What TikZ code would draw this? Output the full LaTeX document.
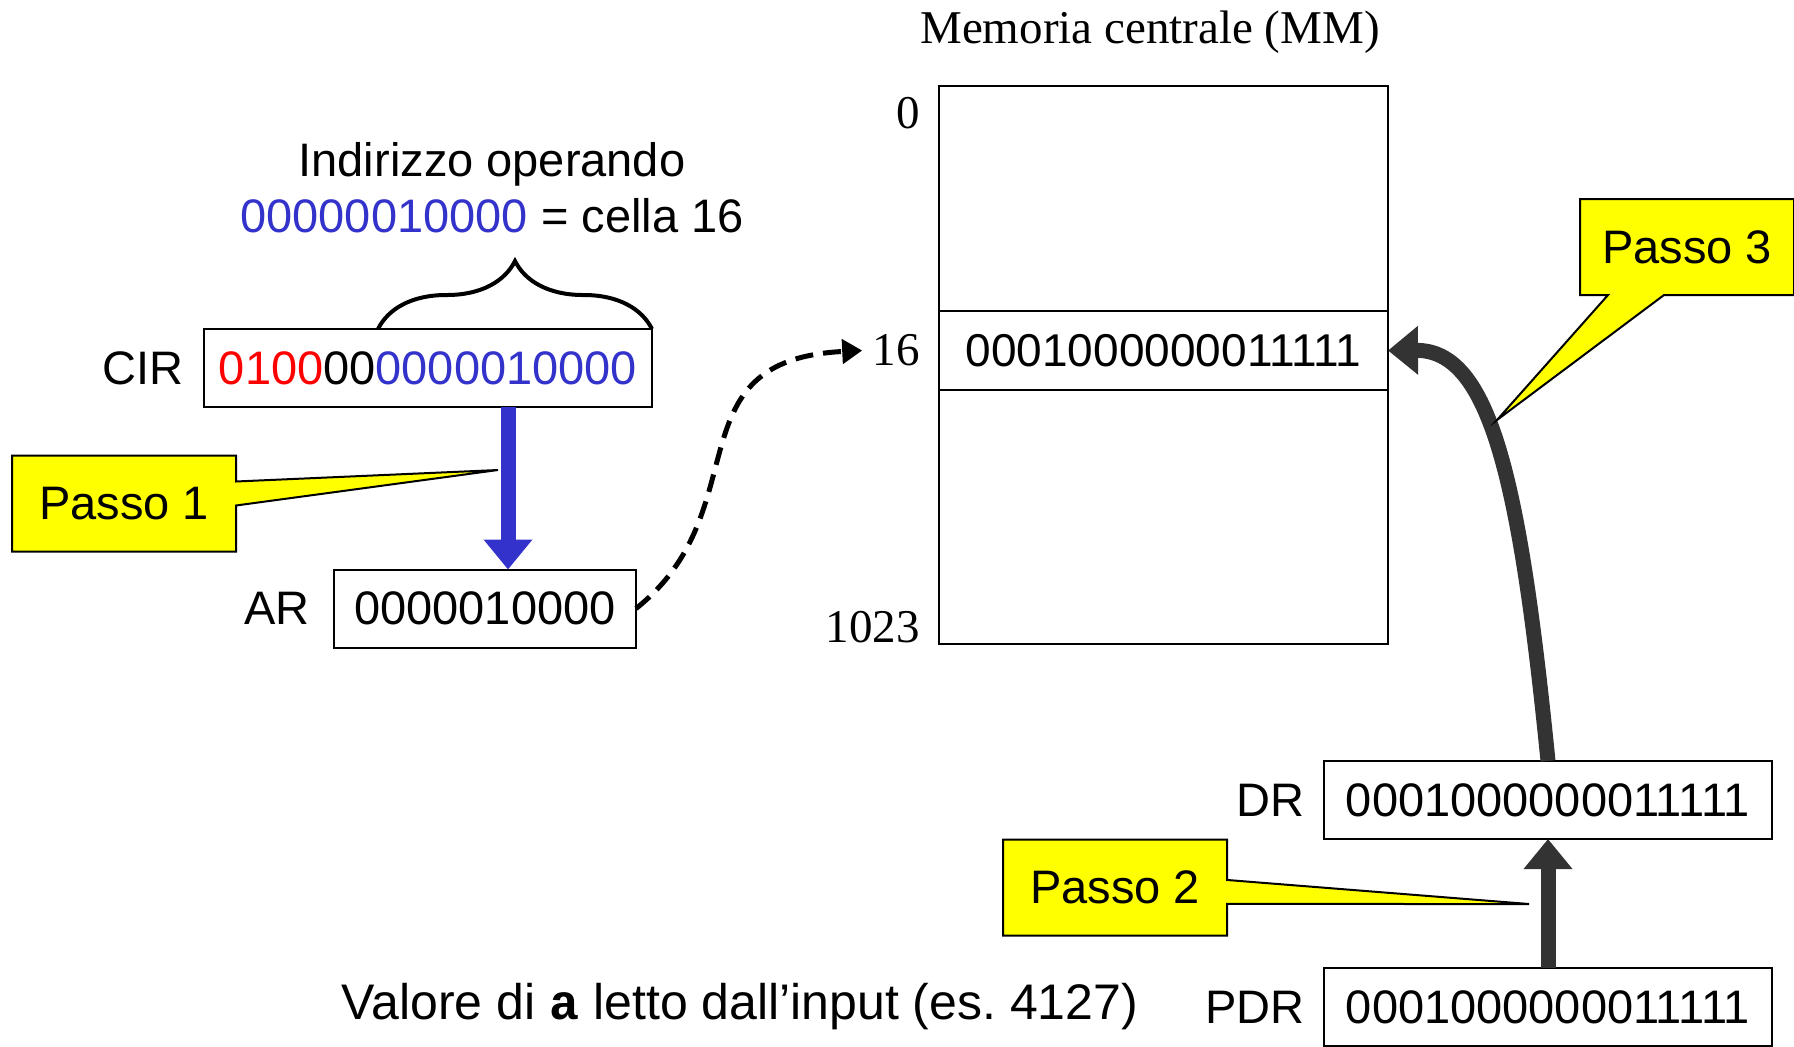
\documentclass[tikz,border=0pt]{standalone}
\usepackage{fontspec}
\setmainfont{Liberation Serif}
\setsansfont{Liberation Sans}
\setmonofont{Liberation Mono}
\usetikzlibrary{arrows.meta,positioning,shapes.callouts,decorations.pathreplacing}

\definecolor{bitred}{RGB}{255,0,0}
\definecolor{bitblue}{RGB}{51,51,204}
\definecolor{busgray}{RGB}{51,51,51}
\definecolor{notefill}{RGB}{255,255,0}

\begin{document}
\begin{tikzpicture}[x=0.5pt, y=-0.5pt, font=\sffamily\fontsize{23.5}{28}\selectfont,
reg/.style={draw, line width=1pt, minimum height=39pt, inner sep=0pt, outer sep=0pt},
cell/.style={draw, line width=1pt, minimum width=224.5pt, inner sep=0pt, outer sep=0pt, font=\sffamily\fontsize{23}{28}\selectfont},
tag/.style={inner sep=0pt},
addr/.style={inner sep=0pt, font=\rmfamily\fontsize{23.5}{28}\selectfont},
note/.style={rectangle callout, draw, line width=1pt, fill=notefill, minimum width=112pt, minimum height=48pt, inner sep=0pt, callout pointer width=12pt},
bus/.style={line width=7.5pt, -{Triangle[length=15pt, width=23.5pt]}}]
\useasboundingbox (0,0) rectangle (1794,1046);

% processor registers
\node[reg, minimum width=224pt] (cir) at (428,368) {\textcolor{bitred}{0100}00\textcolor{bitblue}{0000010000}};
\node[tag, left=10pt of cir] (cirlbl) {CIR};
\node[reg, minimum width=151pt] (ar) at (485,608.5) {0000010000};
\node[tag, left=12pt of ar] (arlbl) {AR};
\node[reg, minimum width=224pt] (dr) at (1548,800) {0001000000011111};
\node[tag, left=9.5pt of dr] (drlbl) {DR};
\node[reg, minimum width=224pt] (pdr) at (1548,1007) {0001000000011111};
\node[tag, left=9.5pt of pdr] (pdrlbl) {PDR};

% operand address field
\draw[line width=2pt, decorate, decoration={brace, amplitude=34pt, aspect=0.5}]
  (cir.north west -| 378,0) -- (cir.north east);
\node[align=center] (opaddr) at (492,188) {Indirizzo operando\\\textcolor{bitblue}{00000010000} = cella 16};

% main memory
\node[addr] (mmtitle) at (1150,32) {Memoria centrale (MM)};
\node[cell, minimum height=112.5pt, anchor=north west] (mmtop) at (939,86) {};
\node[cell, minimum height=39.5pt, below=0pt of mmtop] (cell16) {0001000000011111};
\node[cell, minimum height=127pt, below=0pt of cell16] (mmbot) {};
\node[addr, anchor=north east] (a0) at ([xshift=-9.5pt, yshift=-5.5pt]mmtop.north west) {0};
\node[addr, left=9.5pt of cell16] (a16) {16};
\node[addr, anchor=base east] (a1023) at ([xshift=-9.5pt, yshift=1pt]mmbot.south west) {1023};

\node[font=\sffamily\fontsize{25}{30}\selectfont] (input) at (740,1007) {Valore di {\ttfamily\bfseries a} letto dall’input (es.~4127)};

% transfers
\draw[bus, color=bitblue] ([xshift=40pt]cir.south) -- ([xshift=40pt]cir.south |- ar.north);
\draw[line width=2.5pt, dash pattern=on 9pt off 5pt, -{Triangle[length=10pt, width=12pt]}]
  (ar.east) .. controls (760,510) and (670,360) .. ([xshift=-5pt]a16.west);
\draw[bus, color=busgray] (pdr.north) -- (dr.south);
\draw[bus, color=busgray] (dr.north) .. controls (1520,480) and (1490,350) .. (cell16.east);

% step notes
\node[note, callout absolute pointer={(498,470)}] (passo1) at (124,503.5) {Passo 1};
\node[note, callout absolute pointer={(1529,904)}] (passo2) at (1115,887.5) {Passo 2};
\node[note, minimum width=107pt, callout pointer width=28pt, callout absolute pointer={(1497,420)}] (passo3) at (1687,247) {Passo 3};
\end{tikzpicture}
\end{document}
